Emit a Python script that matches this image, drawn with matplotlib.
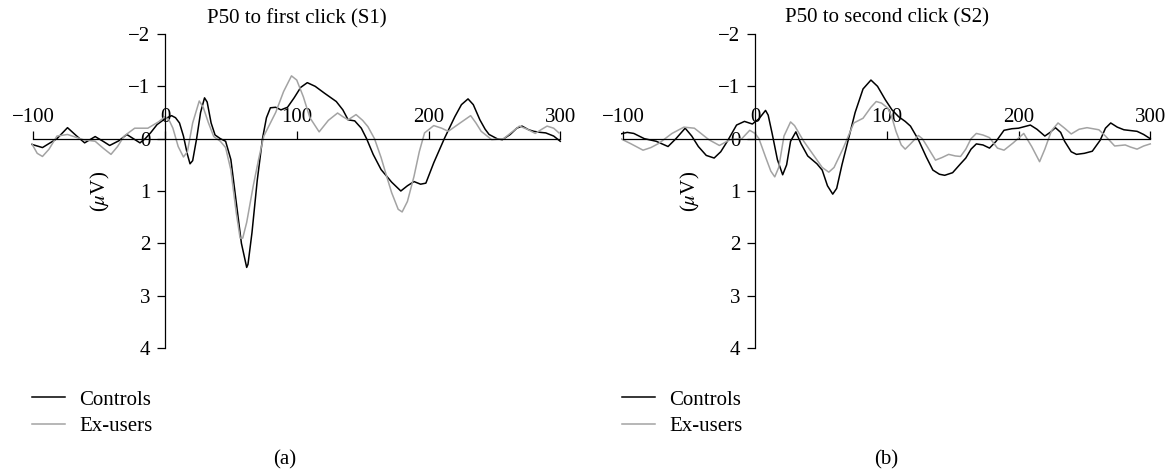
import matplotlib
matplotlib.use("Agg")
import matplotlib.pyplot as plt

plt.rcParams['font.family'] = ['Liberation Serif', 'DejaVu Serif']
plt.rcParams['mathtext.fontset'] = 'stix'

# P50 to first click (S1): time (ms) and amplitude (uV)
s1_ctrl_t = [-101, -93, -82, -74, -67, -61, -53, -47, -42, -35, -29, -24, -19, -15, -11, -6, 0, 5, 8, 11,
             14, 17, 19, 21, 24, 27, 30, 32, 35, 38, 42, 46, 50, 54, 58, 62, 63, 66, 70, 74,
             77, 80, 84, 88, 93, 98, 103, 108, 114, 121, 130, 135, 139, 144, 149, 153, 158, 164, 172, 179,
             184, 189, 194, 198, 204, 212, 220, 225, 230, 234, 239, 243, 246, 252, 256, 262, 267, 271, 276, 280,
             285, 289, 295, 300]
s1_ctrl_v = [0.11, 0.17, 0.0, -0.21, -0.05, 0.08, -0.04, 0.05, 0.13, 0.04, -0.08, 0.0, 0.08, 0.0, -0.11, -0.27, -0.38, -0.44, -0.40, -0.3,
             -0.05, 0.3, 0.48, 0.42, 0.0, -0.5, -0.78, -0.7, -0.3, -0.07, 0.0, 0.05, 0.4, 1.2, 2.0, 2.46, 2.40, 1.8, 0.8, 0.0,
             -0.4, -0.59, -0.6, -0.55, -0.6, -0.78, -0.98, -1.07, -1.0, -0.87, -0.71, -0.55, -0.36, -0.34, -0.2, 0.0, 0.3, 0.59, 0.83, 1.0,
             0.9, 0.82, 0.87, 0.85, 0.46, 0.0, -0.42, -0.65, -0.76, -0.65, -0.36, -0.18, -0.08, 0.0, 0.02, -0.08, -0.2, -0.24, -0.17, -0.14,
             -0.12, -0.11, -0.05, 0.05]

s1_exu_t = [-101, -97, -93, -88, -82, -74, -68, -62, -53, -47, -41, -36, -31, -23, -13, -5, 0, 3, 6, 10,
            14, 17, 21, 26, 29, 33, 37, 42, 46, 50, 54, 57, 59, 62, 67, 71, 75, 80, 84, 90,
            96, 100, 105, 110, 117, 124, 131, 135, 139, 145, 150, 154, 159, 164, 168, 172, 177, 180, 184, 189,
            193, 197, 204, 210, 215, 224, 232, 236, 240, 248, 257, 263, 269, 275, 281, 286, 290, 295, 299]
s1_exu_v = [0.1, 0.28, 0.34, 0.2, -0.05, -0.08, -0.03, 0.02, 0.05, 0.18, 0.3, 0.15, -0.05, -0.2, -0.2, -0.32, -0.42, -0.36, -0.2, 0.15,
            0.35, 0.25, -0.3, -0.72, -0.6, -0.3, -0.04, 0.05, 0.17, 0.6, 1.4, 1.9, 1.9, 1.6, 0.9, 0.4, -0.05, -0.3, -0.5, -0.9,
            -1.2, -1.12, -0.8, -0.4, -0.13, -0.35, -0.49, -0.42, -0.36, -0.46, -0.35, -0.23, 0.0, 0.36, 0.7, 1.03, 1.35, 1.4, 1.2, 0.72,
            0.25, -0.11, -0.25, -0.2, -0.14, -0.3, -0.44, -0.3, -0.14, 0.02, 0.0, -0.12, -0.24, -0.18, -0.1, -0.18, -0.24, -0.2, -0.11]

# P50 to second click (S2)
s2_ctrl_t = [-102, -97, -92, -84, -75, -66, -60, -53, -48, -43, -37, -31, -26, -21, -14, -8, -2, 3, 8, 10,
             13, 17, 21, 24, 27, 31, 35, 40, 47, 51, 55, 59, 62, 66, 71, 76, 82, 88, 93, 99,
             104, 109, 114, 118, 124, 130, 135, 140, 144, 150, 156, 160, 164, 168, 173, 178, 183, 189, 195, 200,
             209, 214, 220, 224, 228, 232, 235, 240, 244, 250, 256, 262, 266, 270, 275, 280, 290, 295, 300]
s2_ctrl_v = [-0.09, -0.12, -0.1, 0.0, 0.05, 0.15, 0.0, -0.2, -0.05, 0.15, 0.32, 0.37, 0.25, 0.05, -0.26, -0.33, -0.28, -0.38, -0.54, -0.45,
             -0.1, 0.4, 0.69, 0.5, 0.05, -0.13, 0.1, 0.33, 0.48, 0.6, 0.9, 1.06, 0.95, 0.5, 0.0, -0.5, -0.95, -1.12, -1.0, -0.74,
             -0.55, -0.42, -0.33, -0.24, 0.02, 0.35, 0.6, 0.68, 0.7, 0.65, 0.48, 0.37, 0.2, 0.1, 0.12, 0.18, 0.05, -0.16, -0.19, -0.2,
             -0.26, -0.18, -0.05, -0.12, -0.21, -0.12, 0.05, 0.25, 0.3, 0.28, 0.24, 0.03, -0.2, -0.3, -0.22, -0.17, -0.14, -0.08, 0.0]

s2_exu_t = [-102, -94, -85, -79, -73, -63, -54, -46, -40, -35, -27, -19, -10, -4, 0, 3, 8, 12, 15, 18,
            22, 27, 30, 37, 46, 51, 56, 60, 67, 75, 82, 88, 92, 96, 101, 104, 107, 111, 114, 118,
            124, 127, 130, 137, 142, 147, 152, 156, 160, 164, 168, 173, 178, 184, 189, 196, 204, 210, 216, 220,
            225, 230, 235, 240, 246, 252, 261, 266, 273, 281, 285, 290, 295, 300]
s2_exu_v = [0.0, 0.1, 0.22, 0.17, 0.09, -0.1, -0.22, -0.2, -0.08, 0.02, 0.13, 0.02, 0.0, -0.16, -0.1, 0.0, 0.35, 0.62, 0.73, 0.55,
            -0.05, -0.32, -0.25, 0.05, 0.37, 0.55, 0.64, 0.55, 0.18, -0.3, -0.39, -0.6, -0.71, -0.68, -0.58, -0.4, -0.14, 0.12, 0.2, 0.1,
            -0.06, 0.0, 0.12, 0.41, 0.36, 0.3, 0.33, 0.34, 0.2, 0.0, -0.1, -0.07, -0.02, 0.18, 0.22, 0.08, -0.1, 0.15, 0.44, 0.2,
            -0.15, -0.3, -0.2, -0.09, -0.18, -0.21, -0.17, -0.05, 0.14, 0.12, 0.16, 0.2, 0.14, 0.1]

x_ticks = [-100, 0, 100, 200, 300]
y_ticks = [-2, -1, 0, 1, 2, 3, 4]

W, H = 1169, 474
GRAY = '#a3a3a3'
FS = 15


def draw_panel(ax, t1, v1, t2, v2, title):
    ax.plot(t1, v1, color='black', lw=1.1, label='Controls', solid_joinstyle='round')
    ax.plot(t2, v2, color=GRAY, lw=1.1, label='Ex-users', solid_joinstyle='round')
    ax.set_xlim(-102, 302)
    ax.set_ylim(4, -2)

    ax.spines['right'].set_visible(False)
    ax.spines['bottom'].set_visible(False)
    ax.spines['left'].set_position(('data', 0))
    ax.spines['left'].set_bounds(-2, 4)
    ax.spines['top'].set_position(('data', 0))
    ax.spines['top'].set_bounds(-100, 300)
    for s in ['left', 'top']:
        ax.spines[s].set_linewidth(0.9)

    ax.xaxis.tick_top()
    ax.set_xticks(x_ticks)
    ax.set_xticklabels(['\u2212100', '0', '100', '200', '300'])
    ax.set_yticks(y_ticks)
    ax.set_yticklabels(['\u22122', '\u22121', '0', '1', '2', '3', '4'])
    ax.tick_params(axis='x', direction='out', length=5.5, width=0.9, pad=3, labelsize=FS)
    ax.tick_params(axis='y', direction='out', length=5.5, width=0.9, pad=5, labelsize=FS)

    ax.text(-49, 1.0, r'($\mu$V)', rotation=90, ha='center', va='center', fontsize=FS)
    ax.text(0.5, 1.05, title, transform=ax.transAxes, ha='center', va='center', fontsize=FS)

    ax.patch.set_visible(False)


fig = plt.figure(figsize=(W / 100, H / 100), dpi=100)
scale = 1.3175
bottom = 1 - 348 / H
height = (348 - 34) / H

for zero_px, t1, v1, t2, v2, title, letter, cap_x in [
        (165, s1_ctrl_t, s1_ctrl_v, s1_exu_t, s1_exu_v, 'P50 to first click (S1)', '(a)', 285),
        (755, s2_ctrl_t, s2_ctrl_v, s2_exu_t, s2_exu_v, 'P50 to second click (S2)', '(b)', 886)]:
    left_px = zero_px - 102 * scale
    ax = fig.add_axes([left_px / W, bottom, 404 * scale / W, height])
    draw_panel(ax, t1, v1, t2, v2, title)
    ax.legend(loc='upper left', bbox_to_anchor=((zero_px - 133) / W, 1 - 390 / H),
              bbox_transform=fig.transFigure, frameon=False, borderpad=0, borderaxespad=0,
              fontsize=FS, handlelength=1.6, handletextpad=0.65, labelspacing=0.32)
    fig.text(cap_x / W, 1 - 460 / H, letter, ha='center', va='center', fontsize=FS)

fig.savefig('out.png', dpi=100)
